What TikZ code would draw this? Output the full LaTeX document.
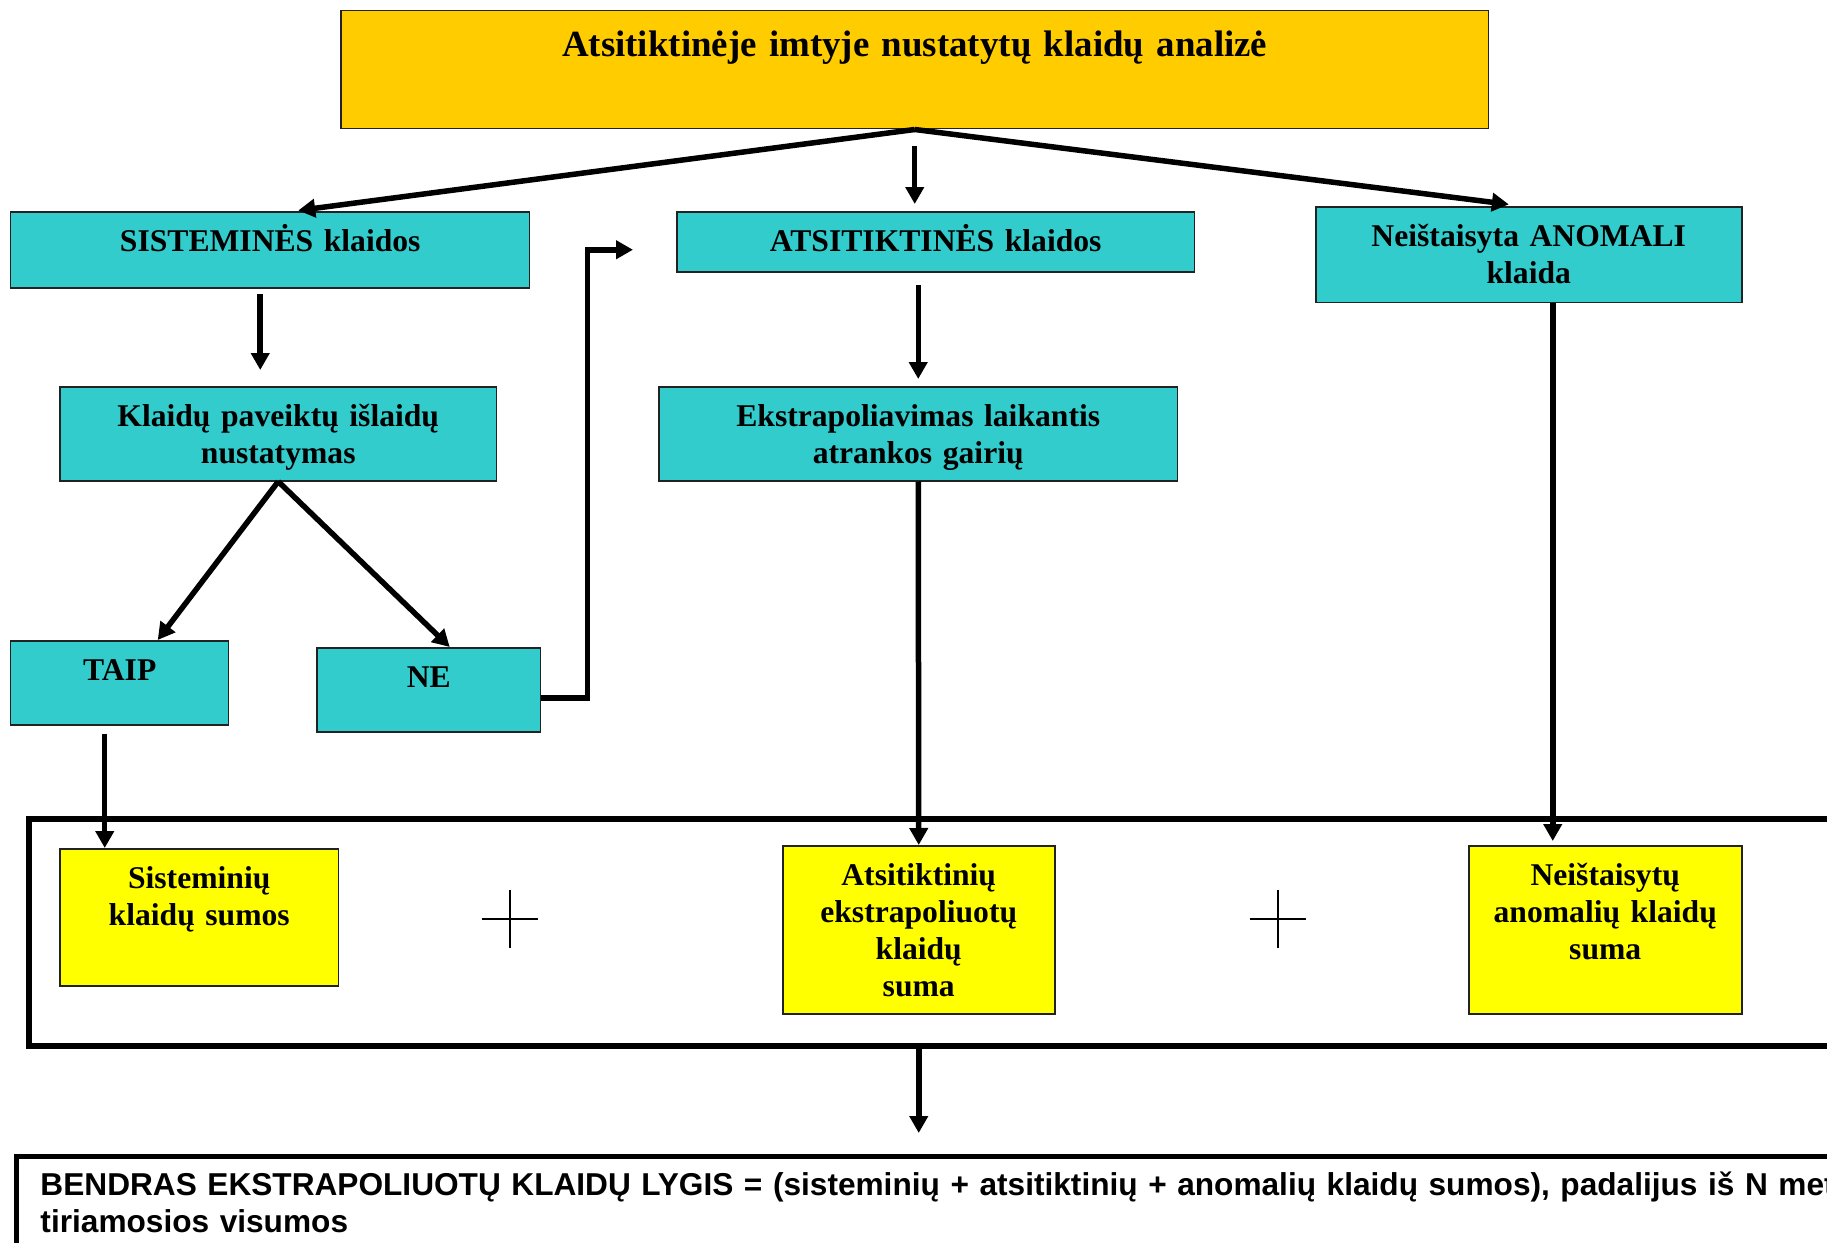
\documentclass[tikz,border=0pt]{standalone}
\usepackage{fontspec}
\setmainfont{Liberation Serif}
\setsansfont{Liberation Sans}
\definecolor{gold}{HTML}{FFCC00}
\definecolor{turq}{HTML}{33CCCC}
\definecolor{lemon}{HTML}{FFFF00}
\definecolor{edge}{HTML}{222222}
\usetikzlibrary{arrows.meta,positioning,calc}

\begin{document}
\begin{tikzpicture}[x=0.1mm, y=-0.1mm,
  box/.style={rectangle, draw=edge, line width=0.15mm, fill=turq, anchor=north west, align=center, inner sep=0pt, text height=4mm, font=\fontsize{9}{10.5}\selectfont\bfseries},
  sumbox/.style={box, fill=lemon},
  arr/.style={-{Triangle[length=1.7mm,width=1.8mm]}, line width=0.55mm},
  plus/.style={line width=0.15mm}]
\useasboundingbox (0,0) rectangle (1827,1243);
\clip (0,0) rectangle (1827,1243);
% upper part
\node[box, fill=gold, text width=114.8mm, text height=4.6mm, text depth=7.2mm, font=\fontsize{10.5}{12}\selectfont\bfseries] (top) at (340,10) {Atsitiktinėje imtyje nustatytų klaidų analizė};
\node[box, text width=51.9mm, text depth=3.6mm] (sist) at (10,211) {SISTEMINĖS klaidos};
\node[box, text width=51.8mm, text depth=2.0mm] (atsit) at (676,211) {ATSITIKTINĖS klaidos};
\node[box, text width=42.6mm, text depth=5.6mm] (neist) at (1315,206) {Neištaisyta ANOMALI\\klaida};
\node[box, text width=43.7mm, text depth=5.4mm] (klaidu) at (59,386) {Klaidų paveiktų išlaidų\\nustatymas};
\node[box, text width=51.9mm, text depth=5.4mm] (ekstra) at (658,386) {Ekstrapoliavimas laikantis\\atrankos gairių};
\node[box, text width=21.8mm, text depth=4.4mm] (taip) at (10,640) {TAIP};
\node[box, text width=22.4mm, text depth=4.4mm] (ne) at (316,647) {NE};
% sums
\node[draw, line width=0.6mm, anchor=north west, minimum width=190mm, minimum height=22.7mm, inner sep=0pt] (sums) at (26,816) {};
\node[sumbox, text width=27.9mm, text depth=9.7mm] (sistsum) at (59,848) {Sisteminių\\klaidų sumos};
\node[sumbox, text width=27.2mm, text depth=12.8mm] (atsitsum) at (782,845) {Atsitiktinių\\ekstrapoliuotų\\klaidų\\suma};
\node[sumbox, text width=27.3mm, text depth=12.8mm] (neistsum) at (1468,845) {Neištaisytų\\anomalių klaidų\\suma};
\draw[plus] (510,890) -- (510,948) (482,919) -- (538,919);
\draw[plus] (1278,890) -- (1278,948) (1250,919) -- (1306,919);
\node[draw, line width=0.5mm, anchor=north west, align=left, inner xsep=2.4mm, inner ysep=0pt, text width=190mm, text height=3.9mm, text depth=10mm, font=\fontsize{9}{10.5}\selectfont\sffamily\bfseries] (final) at (14,1154) {BENDRAS EKSTRAPOLIUOTŲ KLAIDŲ LYGIS = (sisteminių + atsitiktinių + anomalių klaidų sumos), padalijus iš N met\\tiriamosios visumos};
% arrows
\draw[arr, shorten >=0.4mm] (top.south) -- ([xshift=2.4mm]sist.north);
\draw[arr, shorten <=1.7mm, shorten >=0.7mm] (top.south) -- (top.south |- atsit.north);
\draw[arr, shorten >=1.3mm] (top.south) -- ([xshift=-0.7mm]neist.north);
\draw[arr, shorten <=0.5mm, shorten >=1.6mm] ([xshift=-1mm]sist.south) -- ([xshift=-1mm]sist.south |- klaidu.north);
\draw[arr] (klaidu.south) -- ([xshift=3.8mm]taip.north);
\draw[arr] (klaidu.south) -- ([xshift=2.1mm]ne.north);
\draw[arr] ([yshift=-0.8mm]ne.east) -- ++(4.6mm,0) |- ([xshift=-4.3mm,yshift=-0.8mm]atsit.west);
\draw[arr, shorten <=1.2mm, shorten >=0.7mm] (ekstra.north |- atsit.south) -- (ekstra.north);
\draw[arr] (ekstra.south) -- (atsitsum.north);
\draw[arr, shorten >=0.4mm] ([xshift=2.4mm]neist.south) -- ([xshift=2.4mm]neist.south |- neistsum.north);
\draw[arr, shorten <=0.8mm] ([xshift=-1.5mm]taip.south) -- ([xshift=-1.5mm]taip.south |- sistsum.north);
\draw[arr, shorten >=2.1mm] (sums.south -| atsitsum.south) -- (final.north -| atsitsum.south);
\end{tikzpicture}
\end{document}
